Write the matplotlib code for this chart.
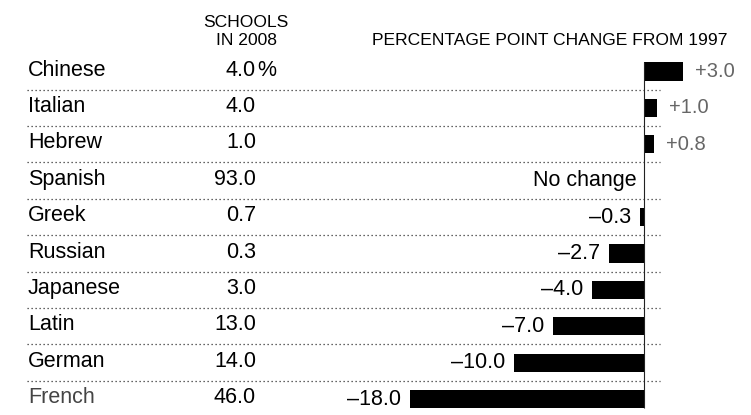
import matplotlib
matplotlib.use('Agg')
import matplotlib.pyplot as plt
import matplotlib.transforms as mtransforms

languages = ['Chinese', 'Italian', 'Hebrew', 'Spanish', 'Greek',
             'Russian', 'Japanese', 'Latin', 'German', 'French']
schools_2008 = [4.0, 4.0, 1.0, 93.0, 0.7, 0.3, 3.0, 13.0, 14.0, 46.0]
change_since_1997 = [3.0, 1.0, 0.8, 0.0, -0.3, -2.7, -4.0, -7.0, -10.0, -18.0]

plt.rcParams['font.family'] = ['Liberation Sans', 'DejaVu Sans']

W, H = 751, 415
fig = plt.figure(figsize=(W / 100, H / 100), dpi=100)
ax = fig.add_axes([0, 0, 1, 1])
ax.axis('off')

# zero line sits at x=644 px, 13 px per point; rows start at 71.5 px, 36.4 px apart
px_per_unit = 13.0
zero_px = 644
row0_px = 71.5
row_px = 36.4
ax.set_xlim(-zero_px / px_per_unit, (W - zero_px) / px_per_unit)
ax.set_ylim((H - row0_px) / row_px, -row0_px / row_px)

rows = list(range(len(languages)))
bar_h = 0.5
ax.barh(rows, change_since_1997, height=bar_h, color='black', zorder=3)

# zero axis line
ax.vlines(0, -bar_h / 2, rows[-1] + bar_h / 2, color='#222222', lw=0.8, zorder=4)

fig_x = mtransforms.blended_transform_factory(fig.transFigure, ax.transData)

# dotted separators between rows
for r in rows[:-1]:
    ax.plot([27 / W, 660 / W], [r + 0.5, r + 0.5], transform=fig_x,
            color='#333333', lw=0.9, linestyle=(0, (1, 2.2)), zorder=1)

fs = 15.5
for r, name, val in zip(rows, languages, schools_2008):
    ax.text(28 / W, r - 0.04, name, transform=fig_x, ha='left', va='center',
            fontsize=fs, color='#444444' if name == 'French' else 'black')
    ax.text(256 / W, r - 0.04, f'{val:.1f}', transform=fig_x, ha='right',
            va='center', fontsize=fs)
    if r == 0:
        ax.text(257 / W, r - 0.04, '%', transform=fig_x, ha='left',
                va='center', fontsize=fs)

for r, ch in zip(rows, change_since_1997):
    if ch > 0:
        ax.annotate(f'+{ch:.1f}', (ch, r), xytext=(12, 0),
                    textcoords='offset pixels', ha='left', va='center',
                    fontsize=fs - 1, color='#666666')
    elif ch < 0:
        ax.annotate(f'\u2013{abs(ch):.1f}', (ch, r), xytext=(-9, 0),
                    textcoords='offset pixels', ha='right', va='center',
                    fontsize=fs)
    else:
        ax.annotate('No change', (0, r), xytext=(-7, 0),
                    textcoords='offset pixels', ha='right', va='center',
                    fontsize=fs)

hfs = 12.6
fig.text(246 / W, 1 - 27 / H, 'SCHOOLS', ha='center', va='baseline', fontsize=hfs)
fig.text(246 / W, 1 - 45 / H, 'IN 2008', ha='center', va='baseline', fontsize=hfs)
fig.text(727 / W, 1 - 45 / H, 'PERCENTAGE POINT CHANGE FROM 1997',
         ha='right', va='baseline', fontsize=hfs)

fig.savefig('out.png', dpi=100, facecolor='white')
